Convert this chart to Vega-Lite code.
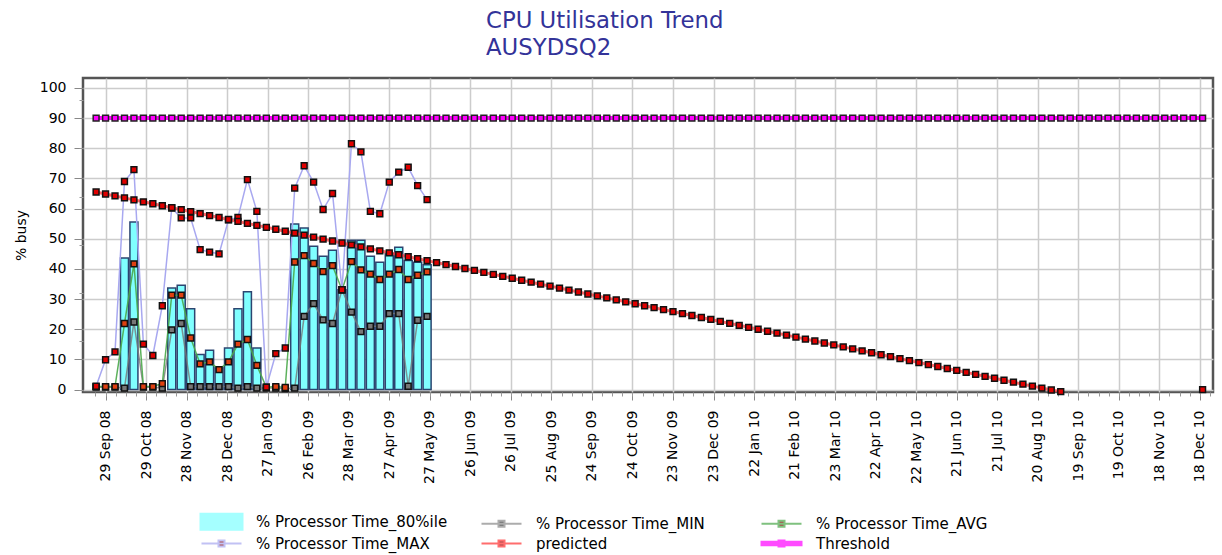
{
  "$schema": "https://vega.github.io/schema/vega-lite/v6.json",
  "width": 1130,
  "height": 314,
  "autosize": {"type": "none"},
  "padding": {"left": 83, "top": 78, "right": 9, "bottom": 163},
  "background": "white",
  "config": {
    "view": {"stroke": "#555555", "strokeWidth": 2.5},
    "font": "DejaVu Sans",
    "axisY": {
      "tickCount": 11,
      "titleFont": "DejaVu Sans",
      "titleFontSize": 14,
      "titleFontWeight": "normal",
      "titleColor": "#000000",
      "titlePadding": 11,
      "labelFont": "DejaVu Sans",
      "labelFontSize": 14,
      "labelColor": "#000000",
      "labelPadding": 8,
      "grid": true,
      "gridColor": "#cccccc",
      "gridWidth": 1.5,
      "domain": false,
      "tickColor": "#888888",
      "tickSize": 9
    }
  },
  "title": {
    "text": ["CPU Utilisation Trend", "AUSYDSQ2"],
    "anchor": "start",
    "frame": "group",
    "dx": 403,
    "offset": 18,
    "font": "DejaVu Sans",
    "fontSize": 22.8,
    "fontWeight": "normal",
    "color": "#333399",
    "lineHeight": 27
  },
  "datasets": {
    "weeks": [
      {"d": "2008-09-22", "min": 0.8, "avg": 1.0, "max": 1.1, "predicted": 65.5, "threshold": 90},
      {"d": "2008-09-29", "min": 0.8, "avg": 1.0, "max": 9.9, "predicted": 64.85, "threshold": 90},
      {"d": "2008-10-06", "min": 0.8, "avg": 1.0, "max": 12.5, "predicted": 64.2, "threshold": 90},
      {"d": "2008-10-13", "p80": 43.6, "min": 0.5, "avg": 21.9, "max": 69.0, "predicted": 63.55, "threshold": 90},
      {"d": "2008-10-20", "p80": 55.6, "min": 22.4, "avg": 41.7, "max": 72.9, "predicted": 62.9, "threshold": 90},
      {"d": "2008-10-27", "min": 0.8, "avg": 1.0, "max": 15.1, "predicted": 62.25, "threshold": 90},
      {"d": "2008-11-03", "min": 0.8, "avg": 1.0, "max": 11.3, "predicted": 61.6, "threshold": 90},
      {"d": "2008-11-10", "min": 0.5, "avg": 2.0, "max": 27.8, "predicted": 60.95, "threshold": 90},
      {"d": "2008-11-17", "p80": 33.7, "min": 19.8, "avg": 31.3, "max": 60.2, "predicted": 60.3, "threshold": 90},
      {"d": "2008-11-24", "p80": 34.6, "min": 21.9, "avg": 31.3, "max": 56.9, "predicted": 59.65, "threshold": 90},
      {"d": "2008-12-01", "p80": 26.8, "min": 1.0, "avg": 17.1, "max": 56.9, "predicted": 59.0, "threshold": 90},
      {"d": "2008-12-08", "p80": 11.6, "min": 1.0, "avg": 8.5, "max": 46.4, "predicted": 58.35, "threshold": 90},
      {"d": "2008-12-15", "p80": 13.0, "min": 1.0, "avg": 9.2, "max": 45.6, "predicted": 57.7, "threshold": 90},
      {"d": "2008-12-22", "p80": 7.2, "min": 1.0, "avg": 6.6, "max": 45.0, "predicted": 57.05, "threshold": 90},
      {"d": "2008-12-29", "p80": 13.8, "min": 1.0, "avg": 9.2, "max": 56.3, "predicted": 56.4, "threshold": 90},
      {"d": "2009-01-05", "p80": 26.8, "min": 0.5, "avg": 15.1, "max": 57.1, "predicted": 55.75, "threshold": 90},
      {"d": "2009-01-12", "p80": 32.4, "min": 1.0, "avg": 16.6, "max": 69.6, "predicted": 55.1, "threshold": 90},
      {"d": "2009-01-19", "p80": 13.8, "min": 0.5, "avg": 8.0, "max": 59.1, "predicted": 54.45, "threshold": 90},
      {"d": "2009-01-26", "min": 0.5, "avg": 0.8, "max": 0.8, "predicted": 53.8, "threshold": 90},
      {"d": "2009-02-02", "min": 0.5, "avg": 1.0, "max": 11.9, "predicted": 53.15, "threshold": 90},
      {"d": "2009-02-09", "min": 0.3, "avg": 0.7, "max": 13.8, "predicted": 52.5, "threshold": 90},
      {"d": "2009-02-16", "p80": 54.9, "min": 0.5, "avg": 42.3, "max": 66.8, "predicted": 51.85, "threshold": 90},
      {"d": "2009-02-23", "p80": 53.6, "min": 24.3, "avg": 44.4, "max": 74.2, "predicted": 51.2, "threshold": 90},
      {"d": "2009-03-02", "p80": 47.5, "min": 28.5, "avg": 41.8, "max": 68.8, "predicted": 50.55, "threshold": 90},
      {"d": "2009-03-09", "p80": 44.2, "min": 23.1, "avg": 39.1, "max": 59.7, "predicted": 49.9, "threshold": 90},
      {"d": "2009-03-16", "p80": 46.2, "min": 21.9, "avg": 41.1, "max": 65.0, "predicted": 49.25, "threshold": 90},
      {"d": "2009-03-23", "p80": 33.1, "min": 33.1, "avg": 33.1, "max": 33.1, "predicted": 48.6, "threshold": 90},
      {"d": "2009-03-30", "p80": 49.5, "min": 25.7, "avg": 42.4, "max": 81.5, "predicted": 47.95, "threshold": 90},
      {"d": "2009-04-06", "p80": 49.5, "min": 19.2, "avg": 39.7, "max": 78.8, "predicted": 47.3, "threshold": 90},
      {"d": "2009-04-13", "p80": 44.2, "min": 21.0, "avg": 38.3, "max": 59.1, "predicted": 46.65, "threshold": 90},
      {"d": "2009-04-20", "p80": 42.2, "min": 21.0, "avg": 36.5, "max": 58.3, "predicted": 46.0, "threshold": 90},
      {"d": "2009-04-27", "p80": 45.1, "min": 25.2, "avg": 38.3, "max": 68.8, "predicted": 45.35, "threshold": 90},
      {"d": "2009-05-04", "p80": 47.2, "min": 25.2, "avg": 39.8, "max": 72.1, "predicted": 44.7, "threshold": 90},
      {"d": "2009-05-11", "p80": 42.8, "min": 1.1, "avg": 36.5, "max": 73.7, "predicted": 44.05, "threshold": 90},
      {"d": "2009-05-18", "p80": 42.2, "min": 23.0, "avg": 37.9, "max": 67.6, "predicted": 43.4, "threshold": 90},
      {"d": "2009-05-25", "p80": 41.4, "min": 24.3, "avg": 39.0, "max": 63.0, "predicted": 42.75, "threshold": 90},
      {"d": "2009-06-01", "predicted": 42.1, "threshold": 90},
      {"d": "2009-06-08", "predicted": 41.45, "threshold": 90},
      {"d": "2009-06-15", "predicted": 40.8, "threshold": 90},
      {"d": "2009-06-22", "predicted": 40.15, "threshold": 90},
      {"d": "2009-06-29", "predicted": 39.5, "threshold": 90},
      {"d": "2009-07-06", "predicted": 38.85, "threshold": 90},
      {"d": "2009-07-13", "predicted": 38.2, "threshold": 90},
      {"d": "2009-07-20", "predicted": 37.55, "threshold": 90},
      {"d": "2009-07-27", "predicted": 36.9, "threshold": 90},
      {"d": "2009-08-03", "predicted": 36.25, "threshold": 90},
      {"d": "2009-08-10", "predicted": 35.6, "threshold": 90},
      {"d": "2009-08-17", "predicted": 34.95, "threshold": 90},
      {"d": "2009-08-24", "predicted": 34.3, "threshold": 90},
      {"d": "2009-08-31", "predicted": 33.65, "threshold": 90},
      {"d": "2009-09-07", "predicted": 33.0, "threshold": 90},
      {"d": "2009-09-14", "predicted": 32.35, "threshold": 90},
      {"d": "2009-09-21", "predicted": 31.7, "threshold": 90},
      {"d": "2009-09-28", "predicted": 31.05, "threshold": 90},
      {"d": "2009-10-05", "predicted": 30.4, "threshold": 90},
      {"d": "2009-10-12", "predicted": 29.75, "threshold": 90},
      {"d": "2009-10-19", "predicted": 29.1, "threshold": 90},
      {"d": "2009-10-26", "predicted": 28.45, "threshold": 90},
      {"d": "2009-11-02", "predicted": 27.8, "threshold": 90},
      {"d": "2009-11-09", "predicted": 27.15, "threshold": 90},
      {"d": "2009-11-16", "predicted": 26.5, "threshold": 90},
      {"d": "2009-11-23", "predicted": 25.85, "threshold": 90},
      {"d": "2009-11-30", "predicted": 25.2, "threshold": 90},
      {"d": "2009-12-07", "predicted": 24.55, "threshold": 90},
      {"d": "2009-12-14", "predicted": 23.9, "threshold": 90},
      {"d": "2009-12-21", "predicted": 23.25, "threshold": 90},
      {"d": "2009-12-28", "predicted": 22.6, "threshold": 90},
      {"d": "2010-01-04", "predicted": 21.95, "threshold": 90},
      {"d": "2010-01-11", "predicted": 21.3, "threshold": 90},
      {"d": "2010-01-18", "predicted": 20.65, "threshold": 90},
      {"d": "2010-01-25", "predicted": 20.0, "threshold": 90},
      {"d": "2010-02-01", "predicted": 19.35, "threshold": 90},
      {"d": "2010-02-08", "predicted": 18.7, "threshold": 90},
      {"d": "2010-02-15", "predicted": 18.05, "threshold": 90},
      {"d": "2010-02-22", "predicted": 17.4, "threshold": 90},
      {"d": "2010-03-01", "predicted": 16.75, "threshold": 90},
      {"d": "2010-03-08", "predicted": 16.1, "threshold": 90},
      {"d": "2010-03-15", "predicted": 15.45, "threshold": 90},
      {"d": "2010-03-22", "predicted": 14.8, "threshold": 90},
      {"d": "2010-03-29", "predicted": 14.15, "threshold": 90},
      {"d": "2010-04-05", "predicted": 13.5, "threshold": 90},
      {"d": "2010-04-12", "predicted": 12.85, "threshold": 90},
      {"d": "2010-04-19", "predicted": 12.2, "threshold": 90},
      {"d": "2010-04-26", "predicted": 11.55, "threshold": 90},
      {"d": "2010-05-03", "predicted": 10.9, "threshold": 90},
      {"d": "2010-05-10", "predicted": 10.25, "threshold": 90},
      {"d": "2010-05-17", "predicted": 9.6, "threshold": 90},
      {"d": "2010-05-24", "predicted": 8.95, "threshold": 90},
      {"d": "2010-05-31", "predicted": 8.3, "threshold": 90},
      {"d": "2010-06-07", "predicted": 7.65, "threshold": 90},
      {"d": "2010-06-14", "predicted": 7.0, "threshold": 90},
      {"d": "2010-06-21", "predicted": 6.35, "threshold": 90},
      {"d": "2010-06-28", "predicted": 5.7, "threshold": 90},
      {"d": "2010-07-05", "predicted": 5.05, "threshold": 90},
      {"d": "2010-07-12", "predicted": 4.4, "threshold": 90},
      {"d": "2010-07-19", "predicted": 3.75, "threshold": 90},
      {"d": "2010-07-26", "predicted": 3.1, "threshold": 90},
      {"d": "2010-08-02", "predicted": 2.45, "threshold": 90},
      {"d": "2010-08-09", "predicted": 1.8, "threshold": 90},
      {"d": "2010-08-16", "predicted": 1.15, "threshold": 90},
      {"d": "2010-08-23", "predicted": 0.5, "threshold": 90},
      {"d": "2010-08-30", "predicted": -0.15, "threshold": 90},
      {"d": "2010-09-06", "predicted": -0.7, "threshold": 90},
      {"d": "2010-09-13", "threshold": 90},
      {"d": "2010-09-20", "threshold": 90},
      {"d": "2010-09-27", "threshold": 90},
      {"d": "2010-10-04", "threshold": 90},
      {"d": "2010-10-11", "threshold": 90},
      {"d": "2010-10-18", "threshold": 90},
      {"d": "2010-10-25", "threshold": 90},
      {"d": "2010-11-01", "threshold": 90},
      {"d": "2010-11-08", "threshold": 90},
      {"d": "2010-11-15", "threshold": 90},
      {"d": "2010-11-22", "threshold": 90},
      {"d": "2010-11-29", "threshold": 90},
      {"d": "2010-12-06", "threshold": 90},
      {"d": "2010-12-13", "threshold": 90},
      {"d": "2010-12-20", "predicted": 0.0, "threshold": 90}
    ]
  },
  "resolve": {"axis": {"x": "independent", "y": "independent"}},
  "layer": [
    {
      "data": {"name": "weeks"},
      "encoding": {
        "x": {
          "field": "d",
          "type": "temporal",
          "scale": {
            "type": "utc",
            "domain": [
              {"year": 2008, "month": 9, "date": 16, "utc": true},
              {"year": 2010, "month": 12, "date": 24, "utc": true}
            ]
          },
          "axis": {
            "orient": "bottom",
            "title": null,
            "values": [
              {"year": 2008, "month": 9, "date": 29, "utc": true},
              {"year": 2008, "month": 10, "date": 29, "utc": true},
              {"year": 2008, "month": 11, "date": 28, "utc": true},
              {"year": 2008, "month": 12, "date": 28, "utc": true},
              {"year": 2009, "month": 1, "date": 27, "utc": true},
              {"year": 2009, "month": 2, "date": 26, "utc": true},
              {"year": 2009, "month": 3, "date": 28, "utc": true},
              {"year": 2009, "month": 4, "date": 27, "utc": true},
              {"year": 2009, "month": 5, "date": 27, "utc": true},
              {"year": 2009, "month": 6, "date": 26, "utc": true},
              {"year": 2009, "month": 7, "date": 26, "utc": true},
              {"year": 2009, "month": 8, "date": 25, "utc": true},
              {"year": 2009, "month": 9, "date": 24, "utc": true},
              {"year": 2009, "month": 10, "date": 24, "utc": true},
              {"year": 2009, "month": 11, "date": 23, "utc": true},
              {"year": 2009, "month": 12, "date": 23, "utc": true},
              {"year": 2010, "month": 1, "date": 22, "utc": true},
              {"year": 2010, "month": 2, "date": 21, "utc": true},
              {"year": 2010, "month": 3, "date": 23, "utc": true},
              {"year": 2010, "month": 4, "date": 22, "utc": true},
              {"year": 2010, "month": 5, "date": 22, "utc": true},
              {"year": 2010, "month": 6, "date": 21, "utc": true},
              {"year": 2010, "month": 7, "date": 21, "utc": true},
              {"year": 2010, "month": 8, "date": 20, "utc": true},
              {"year": 2010, "month": 9, "date": 19, "utc": true},
              {"year": 2010, "month": 10, "date": 19, "utc": true},
              {"year": 2010, "month": 11, "date": 18, "utc": true},
              {"year": 2010, "month": 12, "date": 18, "utc": true}
            ],
            "format": "%d %b %y",
            "labelAngle": -90,
            "labelFont": "DejaVu Sans",
            "labelFontSize": 14,
            "labelColor": "#000000",
            "labelPadding": 10,
            "labelOverlap": false,
            "labelBound": false,
            "labelFlush": false,
            "grid": true,
            "gridColor": "#cccccc",
            "gridWidth": 1.5,
            "domain": false,
            "ticks": true,
            "tickColor": "#888888",
            "tickSize": 8
          }
        }
      },
      "layer": [
        {
          "mark": {"type": "bar", "width": 8, "fill": "#80ffff", "stroke": "#2b4570", "strokeWidth": 1.5},
          "encoding": {"y": {"field": "p80", "type": "quantitative", "scale": {"domain": [-0.8, 103.3], "nice": false, "zero": false}, "axis": {"title": "% busy", "orient": "left"}}}
        },
        {
          "mark": {"type": "line", "stroke": "#777777", "strokeWidth": 1.5, "opacity": 0.8},
          "encoding": {"y": {"field": "min", "type": "quantitative", "scale": {"domain": [-0.8, 103.3], "nice": false, "zero": false}, "axis": {"title": "% busy", "orient": "left"}}}
        },
        {
          "mark": {"type": "line", "stroke": "#4aa84a", "strokeWidth": 1.5, "opacity": 0.9},
          "encoding": {"y": {"field": "avg", "type": "quantitative", "scale": {"domain": [-0.8, 103.3], "nice": false, "zero": false}, "axis": {"title": "% busy", "orient": "left"}}}
        },
        {
          "mark": {"type": "line", "stroke": "#a8a8f0", "strokeWidth": 1.5},
          "encoding": {"y": {"field": "max", "type": "quantitative", "scale": {"domain": [-0.8, 103.3], "nice": false, "zero": false}, "axis": {"title": "% busy", "orient": "left"}}}
        },
        {
          "mark": {"type": "line", "stroke": "#ff3838", "strokeWidth": 3, "opacity": 0.75, "clip": true, "invalid": "break-paths-filter-domains"},
          "encoding": {"y": {"field": "predicted", "type": "quantitative", "scale": {"domain": [-0.8, 103.3], "nice": false, "zero": false}, "axis": {"title": "% busy", "orient": "left"}}}
        },
        {
          "mark": {"type": "line", "stroke": "#ff00ff", "strokeWidth": 4},
          "encoding": {"y": {"field": "threshold", "type": "quantitative", "scale": {"domain": [-0.8, 103.3], "nice": false, "zero": false}, "axis": {"title": "% busy", "orient": "left"}}}
        },
        {
          "mark": {"type": "point", "shape": "square", "size": 34, "filled": true, "fill": "#777777", "stroke": "#111111", "strokeWidth": 1.5, "opacity": 1},
          "encoding": {"y": {"field": "min", "type": "quantitative", "scale": {"domain": [-0.8, 103.3], "nice": false, "zero": false}, "axis": {"title": "% busy", "orient": "left"}}}
        },
        {
          "mark": {"type": "point", "shape": "square", "size": 34, "filled": true, "fill": "#e04010", "stroke": "#111111", "strokeWidth": 1.5, "opacity": 1},
          "encoding": {"y": {"field": "avg", "type": "quantitative", "scale": {"domain": [-0.8, 103.3], "nice": false, "zero": false}, "axis": {"title": "% busy", "orient": "left"}}}
        },
        {
          "mark": {"type": "point", "shape": "square", "size": 34, "filled": true, "fill": "#e00000", "stroke": "#111111", "strokeWidth": 1.5, "opacity": 1},
          "encoding": {"y": {"field": "max", "type": "quantitative", "scale": {"domain": [-0.8, 103.3], "nice": false, "zero": false}, "axis": {"title": "% busy", "orient": "left"}}}
        },
        {
          "mark": {"type": "point", "shape": "square", "size": 34, "filled": true, "fill": "#e00000", "stroke": "#111111", "strokeWidth": 1.5, "opacity": 1},
          "encoding": {"y": {"field": "predicted", "type": "quantitative", "scale": {"domain": [-0.8, 103.3], "nice": false, "zero": false}, "axis": {"title": "% busy", "orient": "left"}}}
        },
        {
          "mark": {"type": "point", "shape": "square", "size": 34, "filled": true, "fill": "#ff00ff", "stroke": "#222222", "strokeWidth": 1.5, "opacity": 1},
          "encoding": {"y": {"field": "threshold", "type": "quantitative", "scale": {"domain": [-0.8, 103.3], "nice": false, "zero": false}, "axis": {"title": "% busy", "orient": "left"}}}
        },
        {
          "transform": [{"filter": "false"}],
          "mark": {"type": "point", "filled": true},
          "encoding": {
            "y": {"field": "threshold", "type": "quantitative", "scale": {"domain": [-0.8, 103.3], "nice": false, "zero": false}, "axis": {"title": "% busy", "orient": "left"}},
            "color": {
              "field": "series",
              "type": "nominal",
              "title": null,
              "scale": {
                "domain": ["% Processor Time_80%ile", "% Processor Time_MIN", "% Processor Time_AVG", "% Processor Time_MAX", "predicted", "Threshold"],
                "range": ["#80ffff", "#333333", "#8b0000", "#8b0000", "#8b0000", "#ff00ff"]
              },
              "legend": {
                "orient": "none",
                "legendX": 131,
                "legendY": 436,
                "direction": "horizontal",
                "columns": 3,
                "gridAlign": "all",
                "columnPadding": 29,
                "rowPadding": 2,
                "symbolSize": 100,
                "symbolStrokeWidth": 2,
                "labelFont": "DejaVu Sans",
                "labelFontSize": 15,
                "labelColor": "#000000",
                "labelOffset": 27,
                "labelLimit": 400,
                "symbolLimit": 0
              }
            },
            "stroke": {
              "field": "series",
              "type": "nominal",
              "title": null,
              "scale": {
                "domain": ["% Processor Time_80%ile", "% Processor Time_MIN", "% Processor Time_AVG", "% Processor Time_MAX", "predicted", "Threshold"],
                "range": ["#80ffff", "#8a8a8a", "#4aa84a", "#a8a8f0", "#ff3030", "#ff00ff"]
              }
            },
            "shape": {
              "field": "series",
              "type": "nominal",
              "title": null,
              "scale": {
                "domain": ["% Processor Time_80%ile", "% Processor Time_MIN", "% Processor Time_AVG", "% Processor Time_MAX", "predicted", "Threshold"],
                "range": [
                  "M-4.2,-1.6H4.2V1.6H-4.2Z",
                  "M-4,0H4M-0.6,-0.6H0.6V0.6H-0.6Z",
                  "M-4,0H4M-0.6,-0.6H0.6V0.6H-0.6Z",
                  "M-4,0H4M-0.6,-0.6H0.6V0.6H-0.6Z",
                  "M-4,0H4M-0.6,-0.6H0.6V0.6H-0.6Z",
                  "M-4,-0.35H4V0.35H-4ZM-0.6,-0.6H0.6V0.6H-0.6Z"
                ]
              }
            }
          }
        }
      ]
    },
    {
      "data": {"name": "weeks"},
      "transform": [{"filter": "false"}],
      "mark": {"type": "point"},
      "encoding": {
        "x": {
          "field": "d",
          "type": "temporal",
          "scale": {
            "type": "utc",
            "domain": [
              {"year": 2008, "month": 9, "date": 16, "utc": true},
              {"year": 2010, "month": 12, "date": 24, "utc": true}
            ]
          },
          "axis": {
            "orient": "bottom",
            "title": null,
            "values": {"expr": "sequence(1221998400000, 1293400000000, 648000000)"},
            "labels": false,
            "grid": false,
            "domain": false,
            "ticks": true,
            "tickColor": "#999999",
            "tickSize": 4
          }
        },
        "y": {
          "field": "threshold",
          "type": "quantitative",
          "scale": {"domain": [-0.8, 103.3], "nice": false, "zero": false},
          "axis": {
            "orient": "left",
            "title": null,
            "values": [0, 2, 4, 6, 8, 10, 12, 14, 16, 18, 20, 22, 24, 26, 28, 30, 32, 34, 36, 38, 40, 42, 44, 46, 48, 50, 52, 54, 56, 58, 60, 62, 64, 66, 68, 70, 72, 74, 76, 78, 80, 82, 84, 86, 88, 90, 92, 94, 96, 98, 100, 102],
            "labels": false,
            "grid": false,
            "domain": false,
            "ticks": true,
            "tickColor": "#999999",
            "tickSize": 4
          }
        }
      }
    }
  ]
}
